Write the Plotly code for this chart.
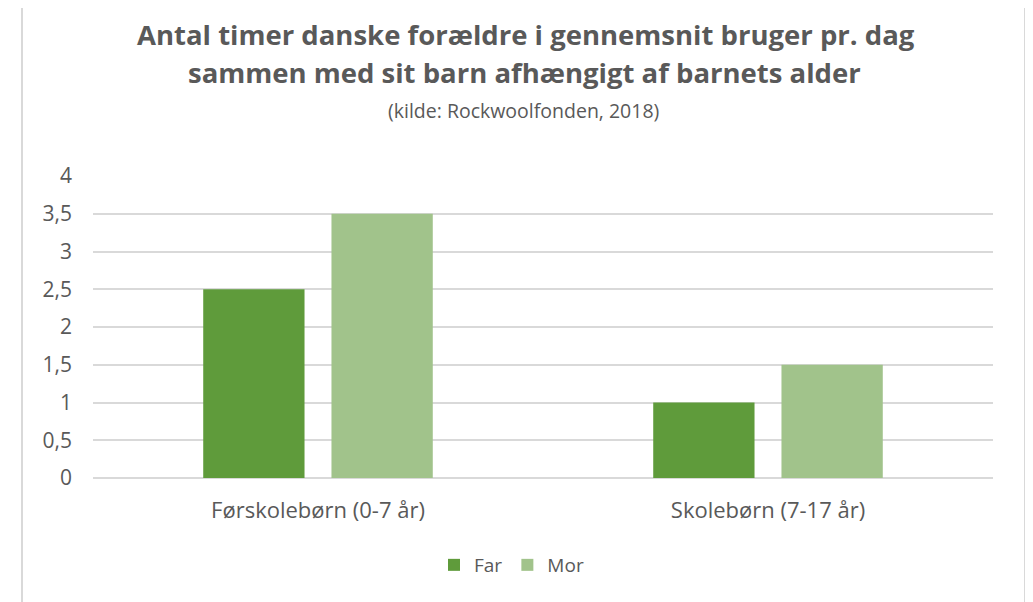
import plotly.graph_objects as go

categories = ["Førskolebørn (0-7 år)", "Skolebørn (7-17 år)"]
far_values = [2.5, 1.0]
mor_values = [3.5, 1.5]
series_names = ["Far", "Mor"]
y_ticks = [0, 0.5, 1, 1.5, 2, 2.5, 3, 3.5, 4]
y_ticktext = ["0", "0,5", "1", "1,5", "2", "2,5", "3", "3,5", "4"]

title_line1 = "Antal timer danske forældre i gennemsnit bruger pr. dag"
title_line2 = "sammen med sit barn afhængigt af barnets alder"
subtitle = "(kilde: Rockwoolfonden, 2018)"

FONT = "Open Sans"
TXT = "#595959"

fig = go.Figure()
fig.add_trace(go.Bar(name=series_names[0], x=categories, y=far_values, marker_color="#5f9b3b", marker_line_width=0))
fig.add_trace(go.Bar(name=series_names[1], x=categories, y=mor_values, marker_color="#a1c38b", marker_line_width=0))

W, H = 1033, 602
OX, OY = 8, 8  # page offset of the figure div
# desired plot area in screen pixels
PL, PR, PT, PB = 93, 993, 176, 478
L = PL - OX
T = PT - OY
R = W - (PR - OX)
B = H - (PB - OY)
pw, ph = W - L - R, H - T - B

def px_x(x):
    return (x - PL) / pw

def px_y(y):
    return (PB - y) / ph

fig.update_layout(
    width=W, height=H,
    margin=dict(l=L, r=R, t=T, b=B, autoexpand=False),
    paper_bgcolor="white", plot_bgcolor="white",
    barmode="group", bargap=0.43, bargroupgap=0.21,
    font=dict(family=FONT, color=TXT, size=16),
    showlegend=True,
    legend=dict(orientation="h", x=px_x(434), xanchor="left", y=px_y(565), yanchor="middle",
                font=dict(size=19, color=TXT), itemwidth=30, traceorder="normal"),
    xaxis=dict(showgrid=False, showline=False, ticks="", tickfont=dict(size=22, color=TXT),
               ticklabelstandoff=17),
    yaxis=dict(range=[0, 4], tickvals=y_ticks, ticktext=y_ticktext, showgrid=True,
               gridcolor="#d9d9d9", gridwidth=2, zeroline=True, zerolinecolor="#d9d9d9",
               zerolinewidth=2, showline=False, ticks="", tickfont=dict(size=21, color=TXT),
               ticklabelstandoff=20),
    annotations=[
        dict(text=title_line1, xref="paper", yref="paper", x=px_x(526), y=px_y(34),
             xanchor="center", yanchor="middle", showarrow=False,
             font=dict(family=FONT, size=27.5, color=TXT, weight="bold")),
        dict(text=title_line2, xref="paper", yref="paper", x=px_x(524), y=px_y(73),
             xanchor="center", yanchor="middle", showarrow=False,
             font=dict(family=FONT, size=27.5, color=TXT, weight="bold")),
        dict(text=subtitle, xref="paper", yref="paper", x=px_x(523), y=px_y(111),
             xanchor="center", yanchor="middle", showarrow=False,
             font=dict(family=FONT, size=19.5, color=TXT)),
    ],
    shapes=[
        dict(type="rect", xref="paper", yref="paper", x0=px_x(22), x1=px_x(1025),
             y0=px_y(680), y1=px_y(6), line=dict(color="#d9d9d9", width=2),
             fillcolor="rgba(0,0,0,0)", layer="below"),
    ],
)

fig.write_html("out.html")
